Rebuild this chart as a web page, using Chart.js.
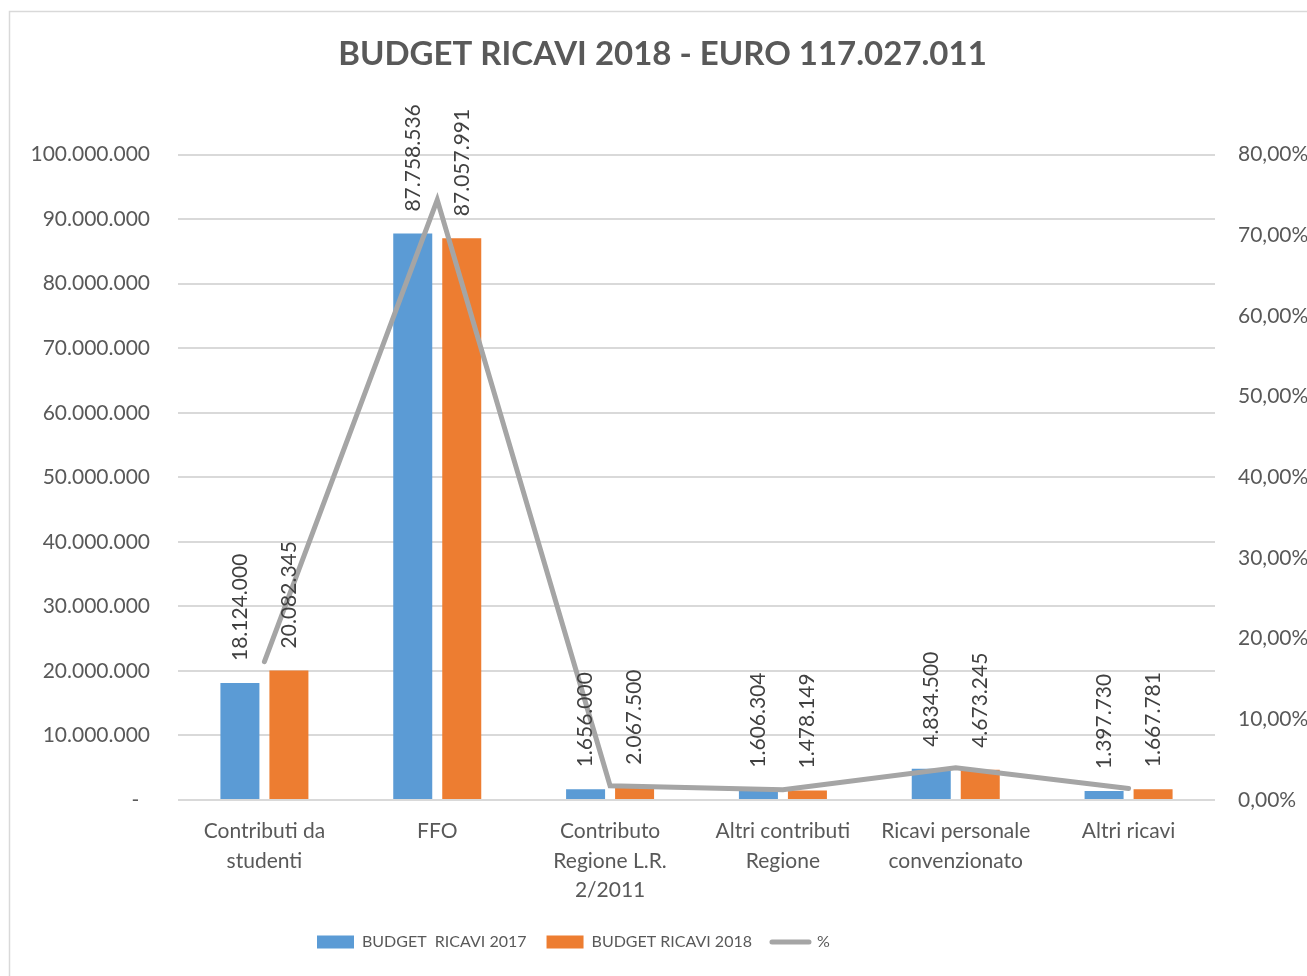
<!DOCTYPE html>
<html>
<head>
<meta charset="utf-8">
<script src="https://cdn.jsdelivr.net/npm/chart.js@4.4.1/dist/chart.umd.min.js"></script>
<style>
html,body{margin:0;padding:0;background:#fff;}
#wrap{width:1307px;height:976px;position:relative;}
</style>
</head>
<body>
<div id="wrap"><canvas id="c" width="1307" height="976"></canvas></div>
<script>
const categories = [
  ["Contributi da", "studenti"],
  ["FFO"],
  ["Contributo", "Regione L.R.", "2/2011"],
  ["Altri contributi", "Regione"],
  ["Ricavi personale", "convenzionato"],
  ["Altri ricavi"]
];
const budget2017 = [18124000, 87758536, 1656000, 1606304, 4834500, 1397730];
const budget2018 = [20082345, 87057991, 2067500, 1478149, 4673245, 1667781];
const percent = [17.16, 74.39, 1.77, 1.26, 3.99, 1.43];
const seriesNames = ["BUDGET  RICAVI 2017", "BUDGET RICAVI 2018", "%"];
const titleText = "BUDGET RICAVI 2018 - EURO 117.027.011";

const fmt = v => String(Math.round(v)).replace(/\B(?=(\d{3})+(?!\d))/g, '.');
const TXT = '#595959';
const GRID = '#d9d9d9';
const FONT = "Lato, 'Open Sans', sans-serif";

const framePlugin = {
  id: 'frame',
  beforeDraw(chart) {
    const ctx = chart.ctx;
    ctx.save();
    ctx.fillStyle = '#fff';
    ctx.fillRect(0, 0, chart.width, chart.height);
    ctx.strokeStyle = GRID;
    ctx.lineWidth = 1.5;
    ctx.strokeRect(9.5, 11.5, 1400, 1000);
    ctx.restore();
  }
};

const labelPlugin = {
  id: 'barLabels',
  afterDatasetsDraw(chart) {
    const ctx = chart.ctx;
    ctx.save();
    ctx.font = "21px " + FONT;
    ctx.fillStyle = '#404040';
    ctx.textAlign = 'left';
    ctx.textBaseline = 'middle';
    chart.data.datasets.forEach((ds, di) => {
      if (ds.type !== 'bar') return;
      const meta = chart.getDatasetMeta(di);
      meta.data.forEach((el, i) => {
        const v = ds.data[i];
        ctx.save();
        ctx.translate(el.x, el.y - 22);
        ctx.rotate(-Math.PI / 2);
        ctx.fillText(fmt(v), 0, 0);
        ctx.restore();
      });
    });
    ctx.restore();
  }
};

const legendPos = {
  id: 'legendPos',
  afterLayout(chart) {
    const lg = chart.legend;
    if (!lg) return;
    const pad = lg.options.labels.padding;
    lg.left = 317 - pad;
    lg.top = 942 - pad - 8;
  }
};

new Chart(document.getElementById('c'), {
  data: {
    labels: categories,
    datasets: [
      {
        type: 'line', label: seriesNames[2], data: percent, yAxisID: 'y2',
        borderColor: '#a5a5a5', backgroundColor: '#a5a5a5', borderWidth: 5,
        pointRadius: 0, pointHoverRadius: 0, tension: 0,
        borderCapStyle: 'round', borderJoinStyle: 'miter', order: 0
      },
      {
        type: 'bar', label: seriesNames[0], data: budget2017, yAxisID: 'y',
        backgroundColor: '#5b9bd5', borderWidth: 0,
        categoryPercentage: 0.567, barPercentage: 0.796, order: 1
      },
      {
        type: 'bar', label: seriesNames[1], data: budget2018, yAxisID: 'y',
        backgroundColor: '#ed7d31', borderWidth: 0,
        categoryPercentage: 0.567, barPercentage: 0.796, order: 1
      }
    ]
  },
  options: {
    responsive: false,
    animation: false,
    devicePixelRatio: 1,
    layout: { padding: { left: 18, right: 0, top: 0, bottom: 0 } },
    plugins: {
      title: {
        display: true, text: titleText, color: TXT,
        font: { family: FONT, size: 33, weight: 'bold', lineHeight: 1.2 },
        padding: { top: 35, bottom: 80 }
      },
      legend: {
        position: 'bottom', align: 'start',
        labels: {
          color: TXT,
          font: { family: FONT, size: 16 },
          usePointStyle: true, pointStyleWidth: 37, boxHeight: 13, padding: 20,
          sort: (a, b) => [1, 2, 0].indexOf(a.datasetIndex) - [1, 2, 0].indexOf(b.datasetIndex),
          generateLabels(chart) {
            return chart.data.datasets.map((ds, i) => ({
              text: ds.label,
              fillStyle: ds.type === 'line' ? ds.borderColor : ds.backgroundColor,
              strokeStyle: ds.type === 'line' ? ds.borderColor : ds.backgroundColor,
              lineWidth: ds.type === 'line' ? 5 : 0,
              pointStyle: ds.type === 'line' ? 'line' : 'rect',
              lineCap: 'round',
              fontColor: TXT,
              hidden: false,
              datasetIndex: i
            }));
          }
        }
      },
      tooltip: { enabled: false }
    },
    scales: {
      x: {
        grid: { display: false, drawTicks: false },
        border: { display: false },
        ticks: { color: TXT, font: { family: FONT, size: 21, lineHeight: 1.4 }, padding: 17, maxRotation: 0, autoSkip: false },
        afterFit(s) { s.height = 130; }
      },
      y: {
        position: 'left', min: 0, max: 100000000,
        grid: { color: GRID, lineWidth: 2, drawTicks: false },
        border: { display: false },
        ticks: {
          stepSize: 10000000, color: TXT, padding: 28,
          font: { family: FONT, size: 21 },
          callback: v => v === 0 ? '-  ' : fmt(v)
        },
        afterFit(s) { s.width = 160; }
      },
      y2: {
        position: 'right', min: 0, max: 80,
        grid: { drawOnChartArea: false, drawTicks: false },
        border: { display: false },
        ticks: {
          stepSize: 10, color: TXT, padding: 23,
          font: { family: FONT, size: 21 },
          callback: v => v.toFixed(2).replace('.', ',') + '%'
        },
        afterFit(s) { s.width = 92; }
      }
    }
  },
  plugins: [framePlugin, labelPlugin, legendPos]
});
</script>
</body>
</html>
